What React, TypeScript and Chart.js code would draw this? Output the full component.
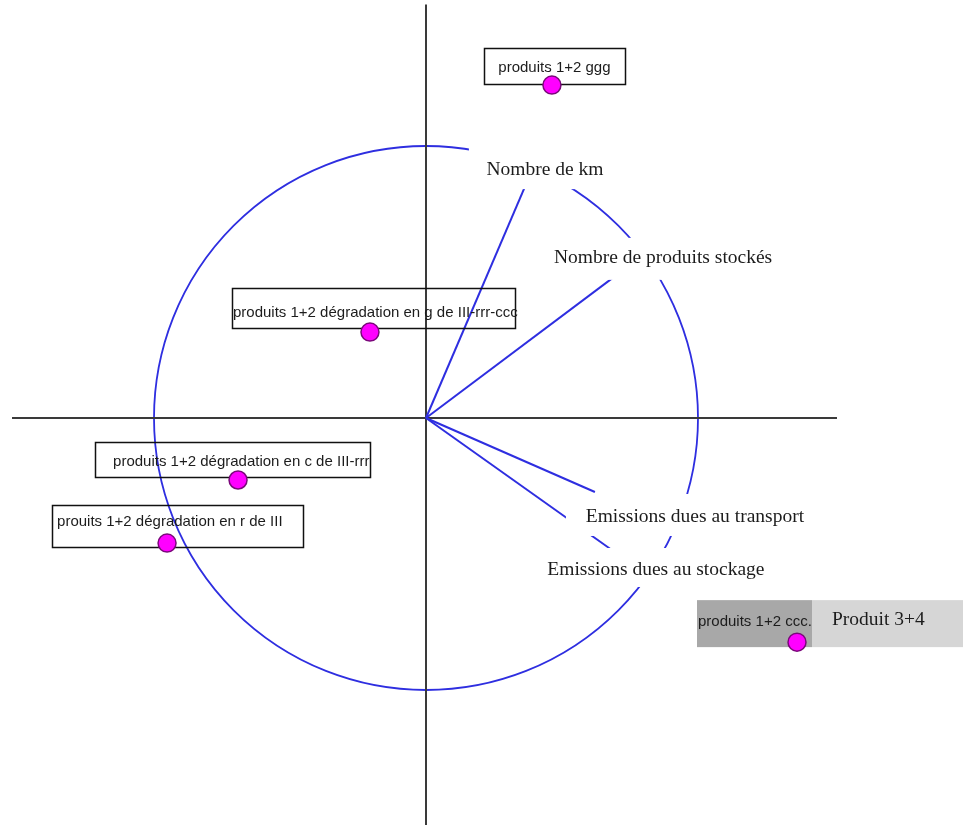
import React, { useEffect, useRef } from "react";
import { Chart, registerables } from "chart.js";

Chart.register(...registerables);

// ---- Data (correlation circle: variables as vectors, individuals as points) ----
const variableNames = [
  "Nombre de km",
  "Nombre de produits stockés",
  "Emissions dues au transport",
  "Emissions dues au stockage",
];
const variableX = [0.382, 0.765, 0.621, 0.735];
const variableY = [0.893, 0.574, -0.272, -0.522];

const individualNames = [
  "produits 1+2 ggg",
  "produits 1+2 dégradation en g de III-rrr-ccc",
  "produits 1+2 dégradation en c de III-rrr",
  "prouits 1+2 dégradation en r de III",
  "produits 1+2 ccc.",
];
const individualX = [0.463, -0.206, -0.691, -0.952, 1.364];
const individualY = [1.224, 0.316, -0.228, -0.46, -0.824];

const groupLabel = "Produit 3+4";

const axisXExtent = [-1.522, 1.511];
const axisYExtent = [1.52, -1.5];

// ---- Layout / style (pixel offsets relative to the anchor point) ----
const BLUE = "#2e2ee0";
const AXIS = "#3a3a3a";
const TEXT = "#1c1c1c";
const SERIF = "19.5px 'Liberation Serif', 'Times New Roman', serif";
const SANS = "15px 'Liberation Sans', Arial, sans-serif";

const variableLayout = [
  { bx: 15, by: -8, w: 152, h: 44, tx: 15, ty: -5 },
  { bx: 28.5, by: -3, w: 235, h: 42, tx: 29, ty: -4 },
  { bx: 94, by: 23, w: 246, h: 42, tx: 100, ty: 25 },
  { bx: 30, by: 7.5, w: 232, h: 39, tx: 30, ty: 10 },
];

const individualLayout = [
  { left: -68, top: -37, w: 141, h: 36, tx: 2.5, ty: -17, align: "center" },
  { left: -138, top: -44, w: 283, h: 40, tx: -137, ty: -19, align: "left" },
  { left: -143, top: -38, w: 275, h: 35, tx: -125, ty: -18, align: "left" },
  { left: -115, top: -38, w: 251, h: 42, tx: -110, ty: -21, align: "left" },
  { left: -100, top: -42, w: 115, h: 47, tx: -99, ty: -20, align: "left", fill: "#a8a8a8" },
];
const groupLayout = { left: 15, top: -42, w: 151, h: 47, tx: 35, ty: -22, fill: "#d6d6d6" };

const PX_PER_UNIT = 272;
const CENTER_X = 426;
const CENTER_Y = 418;
const W = 963;
const H = 825;

const overlayPlugin = {
  id: "pcaOverlay",
  beforeDatasetsDraw(chart: any) {
    const { ctx, scales } = chart;
    const x = scales.x;
    const y = scales.y;
    const cx = x.getPixelForValue(0);
    const cy = y.getPixelForValue(0);
    const r = x.getPixelForValue(1) - cx;
    ctx.save();
    ctx.strokeStyle = BLUE;
    ctx.lineWidth = 1.8;
    ctx.beginPath();
    ctx.arc(cx, cy, r, 0, Math.PI * 2);
    ctx.stroke();
    ctx.restore();
  },
  beforeDatasetDraw(chart: any, args: any) {
    if (args.index !== 0) return;
    const { ctx, scales } = chart;
    const x = scales.x;
    const y = scales.y;
    ctx.save();
    ctx.textBaseline = "middle";

    // variable labels with white backgrounds (hide circle/vector ends)
    variableNames.forEach((name, i) => {
      const px = x.getPixelForValue(variableX[i]);
      const py = y.getPixelForValue(variableY[i]);
      const L = variableLayout[i];
      ctx.fillStyle = "#ffffff";
      ctx.fillRect(px + L.bx - L.w / 2, py + L.by - L.h / 2, L.w, L.h);
      ctx.fillStyle = TEXT;
      ctx.font = SERIF;
      ctx.textAlign = "center";
      ctx.fillText(name, px + L.tx, py + L.ty);
    });

    // individual labels in boxes
    individualNames.forEach((name, i) => {
      const px = x.getPixelForValue(individualX[i]);
      const py = y.getPixelForValue(individualY[i]);
      const L: any = individualLayout[i];
      if (L.fill) {
        ctx.fillStyle = L.fill;
        ctx.fillRect(px + L.left, py + L.top, L.w, L.h);
      } else {
        ctx.strokeStyle = "#111111";
        ctx.lineWidth = 1.5;
        ctx.strokeRect(Math.round(px + L.left) + 0.5, Math.round(py + L.top) + 0.5, L.w, L.h);
      }
      ctx.fillStyle = TEXT;
      ctx.font = SANS;
      ctx.textAlign = L.align;
      ctx.fillText(name, px + L.tx, py + L.ty);
      if (i === individualNames.length - 1) {
        const G = groupLayout;
        ctx.fillStyle = G.fill;
        ctx.fillRect(px + G.left, py + G.top, G.w, G.h);
        ctx.fillStyle = TEXT;
        ctx.font = SERIF;
        ctx.textAlign = "left";
        ctx.fillText(groupLabel, px + G.tx, py + G.ty);
      }
    });
    ctx.restore();
  },
};

export default function App() {
  const canvasRef = useRef<HTMLCanvasElement | null>(null);

  useEffect(() => {
    const canvas = canvasRef.current;
    if (!canvas) return;

    const vectorDatasets = variableNames.map((name, i) => ({
      type: "line" as const,
      label: name,
      data: [
        { x: 0, y: 0 },
        { x: variableX[i], y: variableY[i] },
      ],
      borderColor: BLUE,
      borderWidth: 2,
      pointRadius: 0,
      fill: false,
      tension: 0,
    }));

    const axisDatasets = [
      {
        type: "line" as const,
        label: "axeX",
        data: [
          { x: axisXExtent[0], y: 0 },
          { x: axisXExtent[1], y: 0 },
        ],
        borderColor: AXIS,
        borderWidth: 2,
        pointRadius: 0,
        fill: false,
      },
      {
        type: "line" as const,
        label: "axeY",
        data: [
          { x: 0, y: axisYExtent[0] },
          { x: 0, y: axisYExtent[1] },
        ],
        borderColor: AXIS,
        borderWidth: 2,
        pointRadius: 0,
        fill: false,
      },
    ];

    const chart = new Chart(canvas, {
      type: "scatter",
      data: {
        datasets: [
          {
            type: "scatter",
            label: "individus",
            data: individualX.map((v, i) => ({ x: v, y: individualY[i] })),
            backgroundColor: "#ff00ff",
            borderColor: "#7a087a",
            borderWidth: 1.5,
            pointRadius: 9,
          } as any,
          ...vectorDatasets,
          ...axisDatasets,
        ],
      },
      options: {
        animation: false,
        responsive: false,
        events: [],
        layout: { padding: 0, autoPadding: false },
        plugins: {
          legend: { display: false },
          tooltip: { enabled: false },
          title: { display: false },
        },
        scales: {
          x: {
            type: "linear",
            display: false,
            min: -CENTER_X / PX_PER_UNIT,
            max: (W - CENTER_X) / PX_PER_UNIT,
          },
          y: {
            type: "linear",
            display: false,
            min: -(H - CENTER_Y) / PX_PER_UNIT,
            max: CENTER_Y / PX_PER_UNIT,
          },
        },
      } as any,
      plugins: [overlayPlugin],
    });

    return () => chart.destroy();
  }, []);

  return (
    <div style={{ position: "absolute", left: 0, top: 0, width: W, height: H, background: "#ffffff" }}>
      <canvas ref={canvasRef} width={W} height={H} style={{ width: W, height: H, display: "block" }} />
    </div>
  );
}
